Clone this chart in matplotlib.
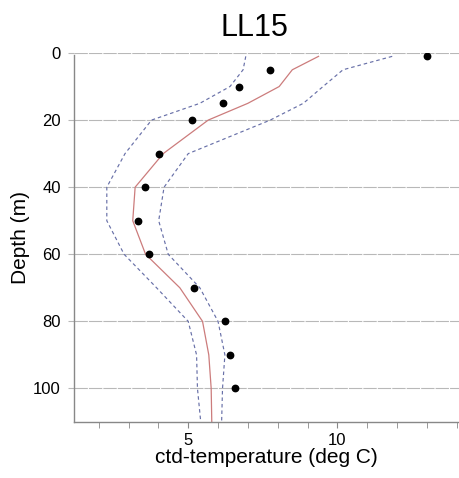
import matplotlib
matplotlib.use("Agg")
import matplotlib.pyplot as plt
from matplotlib.ticker import MultipleLocator, FixedLocator

plt.rcParams['font.family'] = ['Liberation Sans', 'DejaVu Sans']

# observed points
obs_depth = [1, 5, 10, 15, 20, 30, 40, 50, 60, 70, 80, 90, 100]
obs_temp = [13.0, 7.75, 6.69, 6.18, 5.12, 4.03, 3.56, 3.31, 3.68, 5.21, 6.23, 6.41, 6.57]

# model mean and bounds
line_depth = [1, 5, 10, 15, 20, 30, 40, 50, 60, 70, 80, 90, 100, 110]
mean_temp = [9.37, 8.49, 8.05, 7.0, 5.67, 4.16, 3.22, 3.14, 3.57, 4.72, 5.48, 5.69, 5.77, 5.79]
upper_temp = [11.84, 10.19, 9.52, 8.86, 7.75, 5.0, 4.19, 4.01, 4.33, 5.39, 6.0, 6.23, 6.15, 6.12]
lower_temp = [6.93, 6.84, 6.4, 5.39, 3.77, 2.88, 2.27, 2.27, 2.85, 3.94, 5.0, 5.28, 5.31, 5.42]

title = "LL15"
xlabel = "ctd-temperature (deg C)"
ylabel = "Depth (m)"
yticks = [0, 20, 40, 60, 80, 100]
xticks = [5, 10]

fig = plt.figure(figsize=(4.59, 4.78), dpi=100)
ax = fig.add_axes([74/459, 1-422/478, 1-74/459, (422-53)/478])

for y in yticks:
    ax.axhline(y, color='#b8b8b8', lw=0.8, ls=(0, (12, 1)), zorder=0)

ax.plot(lower_temp, line_depth, color='#6870a8', lw=0.85, ls=(0, (3, 2.5)))
ax.plot(upper_temp, line_depth, color='#6870a8', lw=0.85, ls=(0, (3, 2.5)))
ax.plot(mean_temp, line_depth, color='#cc7c7c', lw=0.9)
ax.plot(obs_temp, obs_depth, 'o', color='black', ms=4.6, ls='none')

ax.set_xlim(1.17, 14.08)
ax.set_ylim(110, 0)
ax.set_yticks(yticks)
ax.xaxis.set_major_locator(FixedLocator(xticks))
ax.xaxis.set_minor_locator(MultipleLocator(1))
ax.tick_params(axis='x', which='both', length=4, color='#888888', direction='out', labelsize=12, pad=4)
ax.tick_params(axis='y', length=4.5, width=0.8, color='#b8b8b8', labelsize=12, pad=5)

for s in ['top', 'right']:
    ax.spines[s].set_visible(False)
for s in ['left', 'bottom']:
    ax.spines[s].set_color('#888888')
    ax.spines[s].set_linewidth(1.0)
ax.spines['left'].set_bounds(110, 0.6)

ax.set_title(title, fontsize=22, pad=12, x=0.469)
ax.set_xlabel(xlabel, fontsize=15, labelpad=0)
ax.set_ylabel(ylabel, fontsize=15, labelpad=2)

fig.savefig("out.png", dpi=100)
